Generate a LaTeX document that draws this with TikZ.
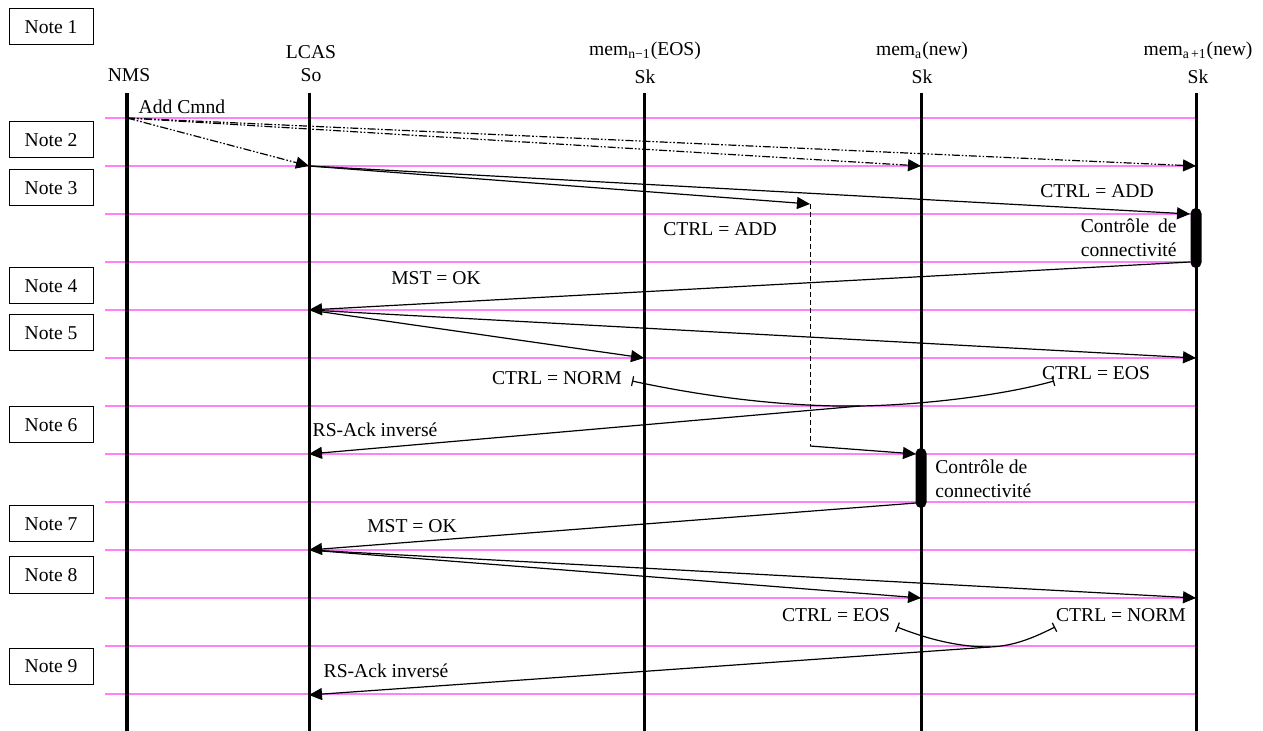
\documentclass[tikz,border=0pt]{standalone}
\usepackage{fontspec}
\setmainfont{Liberation Serif}
\usetikzlibrary{arrows.meta}
\definecolor{rowpink}{RGB}{255,128,255}
\tikzset{
  txt/.style={font=\fontsize{9.8}{12}\selectfont, inner sep=0pt},
  note/.style={txt, draw, line width=0.5pt, minimum width=42pt, minimum height=18pt},
  life/.style={line width=1.5pt},
  row/.style={rowpink, line width=1pt},
  msg/.style={line width=0.6pt, -{Triangle[length=6.5pt,width=6pt]}},
  cmd/.style={msg, dash pattern=on 4pt off 1pt on 0.8pt off 1pt on 0.8pt off 1pt},
  act/.style={fill=black, rounded corners=2.7pt, minimum width=5.5pt, minimum height=30pt, inner sep=0pt},
  span/.style={line width=0.6pt, {Bar[width=5pt]}-{Bar[width=5pt]}}
}
\begin{document}
\begin{tikzpicture}[x=0.5pt,y=-0.5pt]
\useasboundingbox (0,0) rectangle (1263,731);
\foreach \y in {118,166,...,694} \draw[row] (105,\y) -- (1196,\y);
\foreach \n/\y in {1/27,2/140,3/188,4/286,5/333,6/425,7/524,8/575,9/666}
  \node[note] (note\n) at (51,\y) {Note \n};
\node[txt] (nms) at (129,75) {NMS};
\node[txt] (lcas) at (311,52) {LCAS};
\node[txt] (so) at (311,75) {So};
\node[txt] (memeos) at (645,51) {mem\textsubscript{n−1}(EOS)};
\node[txt] (skeos) at (645,77) {Sk};
\node[txt] (memnew) at (922,51) {mem\textsubscript{a}(new)};
\node[txt] (sknew) at (922,77) {Sk};
\node[txt] (memnext) at (1198,51) {mem\textsubscript{a\,+1}(new)};
\node[txt] (sknext) at (1198,77) {Sk};
\coordinate (nmsT) at (127,93); \coordinate (nmsB) at (127,731);
\draw[life, line width=1.8pt] (nmsT) -- (nmsB);
\foreach \n/\x in {so/309,eos/644,new/921,next/1196} {
  \coordinate (\n T) at (\x,93); \coordinate (\n B) at (\x,731);
  \draw[life] (\n T) -- (\n B);
}
\node[act] (act1) at (1196,238) {};
\node[act] (act2) at (921,478) {};
\coordinate (a0) at (127,118);
\coordinate (a1) at (309,166);
\coordinate (a2) at (921,166);
\coordinate (a3) at (1196,166);
\coordinate (b1) at (810,204);
\coordinate (b2) at (1190,214);
\coordinate (b3) at (810,446);
\coordinate (b4) at (916,454);
\coordinate (c0) at (1190,262);
\coordinate (c1) at (309,310);
\coordinate (d1) at (644,358);
\coordinate (d2) at (1196,358);
\coordinate (e1) at (632,381);
\coordinate (e0) at (860,406);
\coordinate (e2) at (1054,381);
\coordinate (f1) at (309,454);
\coordinate (g0) at (916,503);
\coordinate (g1) at (309,550);
\coordinate (h1) at (921,598);
\coordinate (h2) at (1196,598);
\coordinate (k1) at (897,627);
\coordinate (k0) at (990,647);
\coordinate (k2) at (1055,627);
\coordinate (m1) at (309,695);
\draw[cmd] (a0) -- (a1);
\draw[cmd] (a0) -- (a2);
\draw[cmd] (a0) -- (a3);
\node[txt] (addcmnd) at (182,107) {Add Cmnd};
\draw[msg] (a1) -- (b1);
\draw[line width=0.5pt, dash pattern=on 2.5pt off 1.5pt] (b1) -- (b3);
\draw[msg] (b3) -- (b4);
\draw[msg] (a1) -- (b2);
\node[txt] (addlow) at (720,229) {CTRL = ADD};
\node[txt] (addhigh) at (1097,191) {CTRL = ADD};
\node[txt, align=right, anchor=east] (check1) at (1177,238)
  {{\setbox0\hbox{connectivité}\makebox[\wd0][s]{Contrôle de}}\\connectivité};
\draw[msg] (c0) -- (c1);
\node[txt] (mst1) at (436,278) {MST = OK};
\draw[msg] (c1) -- (d1);
\draw[msg] (c1) -- (d2);
\node[txt] (norm1) at (557,378) {CTRL = NORM};
\node[txt] (eos1) at (1096,373) {CTRL = EOS};
\draw[span] (e1) .. controls (720,400) and (800,407) .. (e0)
  .. controls (920,405) and (1000,396) .. (e2);
\draw[msg] (e0) -- (f1);
\node[txt] (ack1) at (375,430) {RS-Ack inversé};
\node[txt, align=left, anchor=west] (check2) at (935,479) {Contrôle de\\connectivité};
\draw[msg] (g0) -- (g1);
\node[txt] (mst2) at (412,526) {MST = OK};
\draw[msg] (g1) -- (h1);
\draw[msg] (g1) -- (h2);
\node[txt] (eos2) at (836,615) {CTRL = EOS};
\node[txt] (norm2) at (1121,615) {CTRL = NORM};
\draw[span] (k1) .. controls (930,640) and (960,647) .. (k0)
  .. controls (1015,646) and (1035,637) .. (k2);
\draw[msg] (k0) -- (m1);
\node[txt] (ack2) at (386,671) {RS-Ack inversé};
\end{tikzpicture}
\end{document}
